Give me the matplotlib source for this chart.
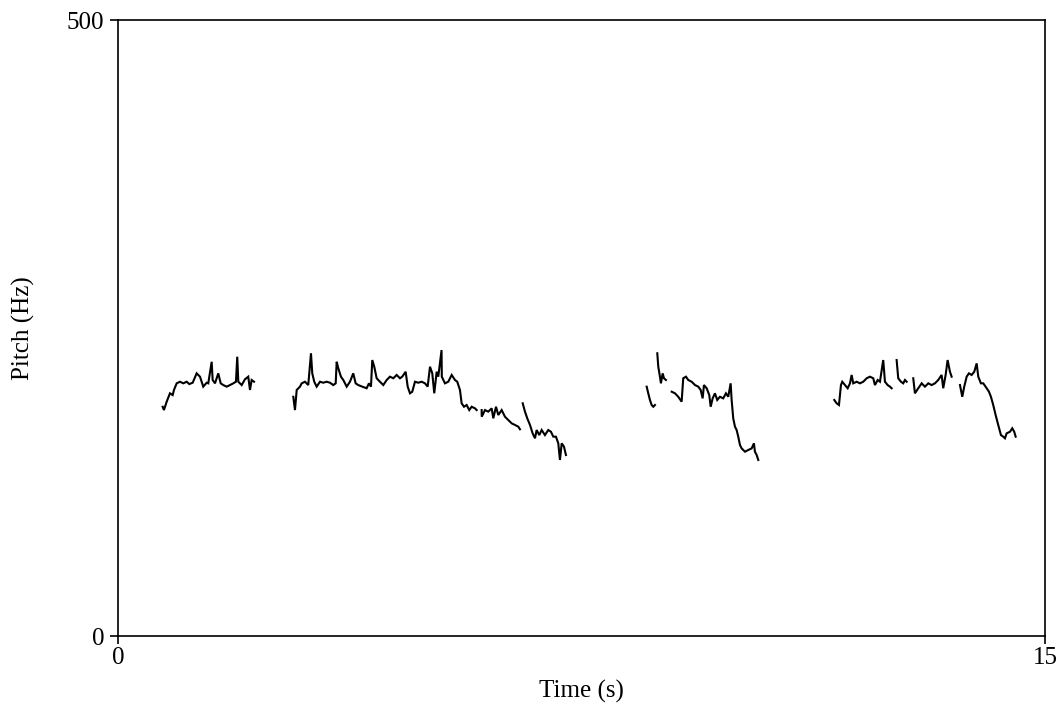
import numpy as np
import matplotlib
matplotlib.use("Agg")
import matplotlib.pyplot as plt

nan = np.nan

# pitch track (seconds, Hz); nan = unvoiced gap
time_1 = [0.723, 0.744, 0.788, 0.841, 0.885, 0.906, 0.950, 1.003, 1.057, 1.112,
          1.154, 1.209, 1.273, 1.327, 1.380, 1.435, 1.461, 1.516, 1.532, 1.570,
          1.623, 1.662, 1.704, 1.759, 1.812, 1.866, 1.909, 1.930, 1.947, 2.002,
          2.055, 2.108, 2.136, 2.163, 2.201]
pitch_1 = [186.1, 183.4, 190.2, 197.0, 195.6, 199.7, 205.1, 206.4, 205.1, 206.4,
           204.5, 205.6, 213.2, 210.5, 202.4, 205.6, 205.1, 222.6, 207.8, 205.1,
           213.2, 205.1, 203.7, 202.4, 203.7, 205.1, 206.4, 226.7, 206.4, 203.7,
           208.4, 210.5, 199.7, 207.8, 206.4]

time_2 = [2.837, 2.864, 2.892, 2.945, 2.973, 3.026, 3.079, 3.123, 3.144, 3.176,
          3.215, 3.269, 3.322, 3.377, 3.430, 3.484, 3.523, 3.539, 3.565, 3.608,
          3.646, 3.701, 3.754, 3.807, 3.846, 3.888, 3.953, 4.024, 4.061, 4.094,
          4.115, 4.147, 4.186, 4.239, 4.293, 4.348, 4.401, 4.455, 4.510, 4.563,
          4.600, 4.655, 4.688, 4.725, 4.762, 4.806, 4.859, 4.914, 4.968, 5.011,
          5.049, 5.086, 5.118, 5.157, 5.183, 5.236, 5.240, 5.291, 5.345, 5.400,
          5.453, 5.490, 5.534, 5.561, 5.599, 5.642, 5.684, 5.723, 5.777, 5.804,
          nan,
          5.885, 5.886, 5.939, 5.992, 6.047, 6.073, 6.117, 6.154, 6.209, 6.262,
          6.316, 6.371, 6.424, 6.478, 6.505]
pitch_2 = [194.2, 183.4, 199.7, 202.4, 205.1, 206.4, 203.7, 229.5, 213.2, 206.4,
           202.4, 206.4, 205.6, 206.4, 205.6, 203.7, 205.1, 222.6, 217.3, 210.5,
           207.8, 202.4, 206.4, 213.2, 205.1, 203.7, 202.4, 201.1, 205.1, 202.4,
           224.0, 218.6, 209.2, 206.4, 203.7, 207.8, 210.5, 209.2, 211.9, 209.2,
           210.5, 214.5, 202.4, 197.0, 198.3, 206.4, 205.6, 206.4, 205.1, 202.4,
           218.6, 213.2, 197.0, 214.5, 210.5, 232.1, 210.5, 205.1, 206.4, 211.9,
           207.8, 206.4, 199.7, 188.9, 186.1, 187.5, 183.4, 186.1, 184.8, 183.4,
           nan,
           183.4, 178.0, 183.4, 182.1, 184.8, 176.7, 186.1, 179.4, 183.4, 178.0,
           175.3, 172.6, 171.3, 169.9, 167.8]

time_3 = [6.549, 6.586, 6.623, 6.667, 6.710, 6.748, 6.775, 6.817, 6.856, 6.909,
          6.963, 7.006, 7.044, 7.087, 7.125, 7.152, 7.180, 7.217, 7.249]
pitch_3 = [188.9, 182.1, 176.7, 171.3, 164.5, 160.5, 167.2, 163.1, 167.2, 163.1,
           167.2, 165.8, 161.8, 161.8, 156.4, 142.9, 156.4, 153.7, 146.9]

time_4 = [8.555, 8.581, 8.608, 8.636, 8.662, 8.689,
          nan,
          8.727, 8.743, 8.770, 8.786, 8.814, 8.835, 8.867,
          nan,
          8.960, 9.013, 9.066, 9.121, 9.147, 9.191, 9.228, 9.283, 9.337, 9.390,
          9.429, 9.461, 9.482, 9.526, 9.568, 9.591, 9.623, 9.660, 9.697, 9.741,
          9.794, 9.838, 9.875, 9.914, 9.930, 9.956, 9.984, 10.011, 10.037, 10.065,
          10.092, 10.146, 10.199, 10.254, 10.291, 10.307, 10.335, 10.361]
pitch_4 = [202.4, 197.0, 191.6, 187.5, 186.1, 187.5,
           nan,
           229.5, 218.6, 210.5, 205.1, 213.2, 209.2, 207.8,
           nan,
           198.3, 197.0, 194.2, 190.2, 209.2, 210.5, 207.8, 206.4, 203.7, 202.4,
           199.7, 192.9, 203.7, 201.1, 195.6, 186.1, 192.9, 197.0, 191.6, 194.2,
           192.9, 197.0, 194.2, 205.1, 191.6, 176.7, 169.9, 167.2, 161.8, 155.0,
           152.3, 149.6, 151.0, 152.3, 156.4, 149.6, 146.9, 142.9]

time_5 = [11.591, 11.629, 11.667, 11.699, 11.720, 11.764, 11.808, 11.845, 11.872, 11.898,
          11.953, 12.006, 12.060, 12.115, 12.168, 12.222, 12.249, 12.293, 12.330, 12.383,
          12.411, 12.455, 12.492, 12.519,
          nan,
          12.600, 12.626, 12.670, 12.707, 12.735, 12.762,
          nan,
          12.869, 12.896, 12.950, 13.005, 13.058, 13.112, 13.167, 13.220, 13.273, 13.328,
          13.354, 13.393, 13.425, 13.463, 13.490,
          nan,
          13.625, 13.662, 13.694, 13.733, 13.770, 13.814, 13.856, 13.895, 13.921, 13.964,
          14.002, 14.057, 14.094, 14.126, 14.163, 14.202, 14.244, 14.288, 14.325, 14.353,
          14.380, 14.434, 14.471, 14.503, 14.526]
pitch_5 = [191.6, 188.9, 187.5, 203.7, 206.4, 203.7, 201.1, 205.1, 211.9, 205.1,
           206.4, 205.1, 206.4, 209.2, 210.5, 209.2, 203.7, 207.8, 206.4, 224.0,
           206.4, 203.7, 202.4, 201.1,
           nan,
           224.0, 209.2, 206.4, 205.1, 207.8, 206.4,
           nan,
           209.2, 197.0, 201.1, 205.1, 202.4, 205.1, 203.7, 205.1, 207.8, 211.9,
           201.1, 211.9, 224.0, 214.5, 210.5,
           nan,
           203.7, 194.2, 202.4, 210.5, 213.2, 211.9, 214.5, 221.3, 210.5, 205.1,
           205.1, 201.1, 198.3, 194.2, 187.5, 179.4, 171.3, 163.1, 161.8, 160.5,
           164.5, 165.8, 168.6, 165.8, 161.8]

tracks = [(time_1, pitch_1), (time_2, pitch_2), (time_3, pitch_3),
          (time_4, pitch_4), (time_5, pitch_5)]

plt.rcParams["font.family"] = ["Liberation Serif", "DejaVu Serif"]

fig = plt.figure(figsize=(10.6, 7.07), dpi=100)
ax = fig.add_axes([0.1113, 0.1004, 0.8745, 0.8713])

for t, f in tracks:
    ax.plot(t, f, color="black", linewidth=1.5, solid_joinstyle="miter")

ax.set_xlim(0, 15)
ax.set_ylim(0, 500)
ax.set_xticks([0, 15])
ax.set_yticks([0, 500])
ax.tick_params(direction="out", length=6, width=1.2, labelsize=18,
               colors="black", pad=2)
ax.tick_params(axis="y", pad=4)
for sp in ax.spines.values():
    sp.set_linewidth(1.2)

ax.set_xlabel("Time (s)", fontsize=18)
ax.set_ylabel("Pitch (Hz)", fontsize=18)
ax.xaxis.set_label_coords(0.5, -0.0714)
ax.yaxis.set_label_coords(-0.0895, 0.5)

fig.savefig("out.png", dpi=100, facecolor="white")
